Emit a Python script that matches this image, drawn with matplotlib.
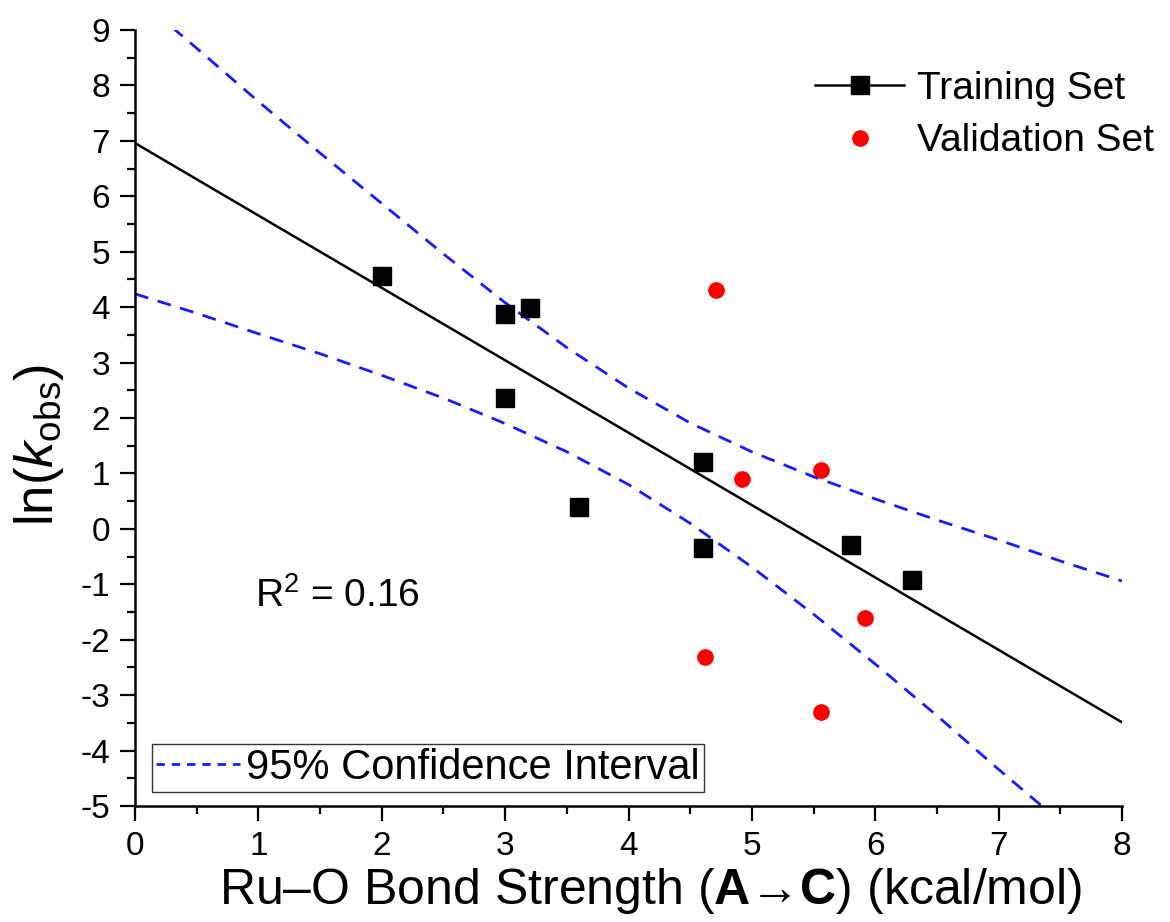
import matplotlib
matplotlib.use("Agg")
import matplotlib.pyplot as plt
from matplotlib.lines import Line2D

plt.rcParams['font.family'] = ['Liberation Sans', 'DejaVu Sans']
plt.rcParams['mathtext.fontset'] = 'custom'
plt.rcParams['mathtext.rm'] = 'Liberation Sans'
plt.rcParams['mathtext.it'] = 'Liberation Sans:italic'
plt.rcParams['mathtext.bf'] = 'Liberation Sans:bold'
plt.rcParams['axes.unicode_minus'] = False

# training set (black squares)
train_x = [2.0, 3.0, 3.2, 3.0, 3.6, 4.6, 4.6, 5.8, 6.3]
train_y = [4.57, 3.88, 3.98, 2.36, 0.39, 1.21, -0.34, -0.30, -0.93]

# validation set (red dots)
valid_x = [4.71, 4.92, 5.56, 5.92, 4.62, 5.56]
valid_y = [4.31, 0.90, 1.06, -1.60, -2.32, -3.30]

# linear fit
fit_x = [0.0, 8.0]
fit_y = [6.96, -3.49]

# 95% confidence band
upper_x = [0.3, 0.5, 1.0, 1.5, 2.0, 2.5, 3.0, 3.5, 4.0, 4.5, 5.0, 5.5, 6.0, 6.5, 7.0, 7.5, 8.0]
upper_y = [9.05, 8.67, 7.71, 6.78, 5.87, 4.96, 4.08, 3.27, 2.54, 1.91, 1.39, 0.94, 0.54, 0.16, -0.20, -0.58, -0.94]
lower_x = [0.0, 0.5, 1.0, 1.5, 2.0, 2.5, 3.0, 3.5, 4.0, 4.5, 5.0, 5.5, 6.0, 6.5, 7.0, 7.35]
lower_y = [4.24, 3.89, 3.52, 3.16, 2.77, 2.36, 1.90, 1.39, 0.80, 0.10, -0.69, -1.54, -2.44, -3.37, -4.34, -5.0]

W, H = 1170, 922
fig = plt.figure(figsize=(W / 100, H / 100), dpi=100)
ax = fig.add_axes([135 / W, 116 / H, 987 / W, 776 / H])

blue = '#1a1aff'
ax.plot(upper_x, upper_y, color=blue, lw=2.0, dashes=(5, 3.5))
ax.plot(lower_x, lower_y, color=blue, lw=2.0, dashes=(5, 3.5))
ax.plot(fit_x, fit_y, color='black', lw=1.8)
ax.plot(train_x, train_y, 's', color='black', ms=13, ls='none')
ax.plot(valid_x, valid_y, 'o', color='#ff0000', ms=11, ls='none')

ax.set_xlim(0, 8)
ax.set_ylim(-5, 9)
ax.set_xticks(range(0, 9))
ax.set_yticks(range(-5, 10))
ax.set_xticks([i + 0.5 for i in range(8)], minor=True)
ax.set_yticks([i + 0.5 for i in range(-5, 9)], minor=True)
ax.tick_params(which='major', length=11, width=1.6, labelsize=24, pad=7)
ax.tick_params(which='minor', length=6, width=1.6)
for s in ['top', 'right']:
    ax.spines[s].set_visible(False)
for s in ['left', 'bottom']:
    ax.spines[s].set_linewidth(1.8)

ax.set_xlabel(r'Ru–O Bond Strength ($\mathbf{A}$→$\mathbf{C}$) (kcal/mol)',
              fontsize=36)
ax.xaxis.set_label_coords(0.522, -0.077)
ax.set_ylabel(r'ln($k_{\mathrm{obs}}$)', fontsize=38)
ax.yaxis.set_label_coords(-0.07, 0.465)

ax.text(0.97, -1.4, r'R$^2$ = 0.16', fontsize=28, ha='left', va='baseline')

h1 = Line2D([], [], color='black', lw=1.8, marker='s', ms=13)
h2 = Line2D([], [], color='#ff0000', ls='none', marker='o', ms=11)
leg1 = fig.legend([h1, h2], ['Training Set', 'Validation Set'],
                  loc='upper left', bbox_to_anchor=(815 / W, 1 - 71 / H),
                  frameon=False, fontsize=28, handlelength=2.3,
                  handletextpad=0.33, labelspacing=0.42,
                  borderpad=0, borderaxespad=0)

h3 = Line2D([], [], color=blue, lw=2.0, dashes=(3, 2.5))
leg2 = fig.legend([h3], ['95% Confidence Interval'],
                  loc='lower left', bbox_to_anchor=(152 / W, 1 - 792 / H),
                  frameon=True, fancybox=False, fontsize=30,
                  handlelength=2.0, handletextpad=0.15, borderpad=0.1,
                  borderaxespad=0)
leg2.get_frame().set_edgecolor('black')
leg2.get_frame().set_linewidth(1.0)

fig.savefig('out.png', dpi=100)
